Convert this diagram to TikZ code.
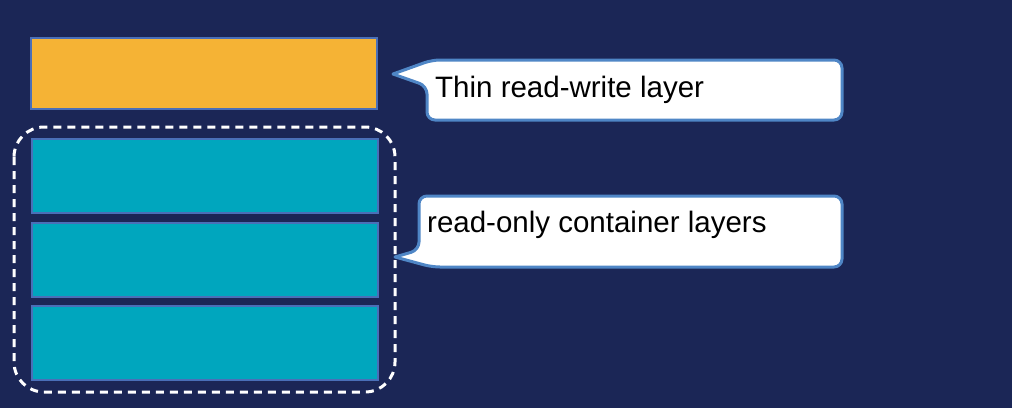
\documentclass[tikz,border=0pt]{standalone}
\usepackage{fontspec}
\setmainfont{Liberation Sans}
\definecolor{bg}{HTML}{1B2656}
\definecolor{orangefill}{HTML}{F5B335}
\definecolor{tealfill}{HTML}{00A6BE}
\definecolor{layeredge}{HTML}{4A6FB8}
\definecolor{calloutedge}{HTML}{4F86C6}
\tikzset{
  layerbox/.style={draw=layeredge, line width=2pt, minimum width=346pt, inner sep=0pt, outer sep=0pt},
  rwlayer/.style={layerbox, fill=orangefill, minimum height=71pt},
  rolayer/.style={layerbox, fill=tealfill, minimum height=74pt},
  groupbox/.style={draw=white, line width=3pt, dash pattern=on 8pt off 6pt, rounded corners=30pt},
  callout/.style={draw=calloutedge, fill=white, line width=3pt, line join=round},
  callouttext/.style={anchor=base west, inner sep=0pt, font=\fontsize{29.5}{35}\selectfont, text=black}
}
\begin{document}
\begin{tikzpicture}[x=1pt,y=-1pt]
\useasboundingbox (0,0) rectangle (1012,408);
\fill[bg] (0,0) rectangle (1012,408);
% layers
\node[rwlayer] (rw) at (204,73) {};
\node[rolayer] (ro1) at (204.5,175.5) {};
\node[rolayer] (ro2) at (204.5,259.5) {};
\node[rolayer] (ro3) at (204.5,342.5) {};
% dashed group around read-only layers
\draw[groupbox] (14,127) rectangle (395,392);
% callout 1
\draw[callout] (393,74) [rounded corners=8pt] -- (432,60) -- (842,60) -- (842,120) -- (427,120) -- (427,86) [sharp corners] -- cycle;
\node[callouttext] (t1) at (435,97) {Thin read-write layer};
% callout 2
\draw[callout] (395,257) [rounded corners=8pt] -- (419,250) -- (419,196) -- (842,196) -- (842,267) -- (432,267) [sharp corners] -- cycle;
\node[callouttext] (t2) at (427,232) {read-only container layers};
\end{tikzpicture}
\end{document}
